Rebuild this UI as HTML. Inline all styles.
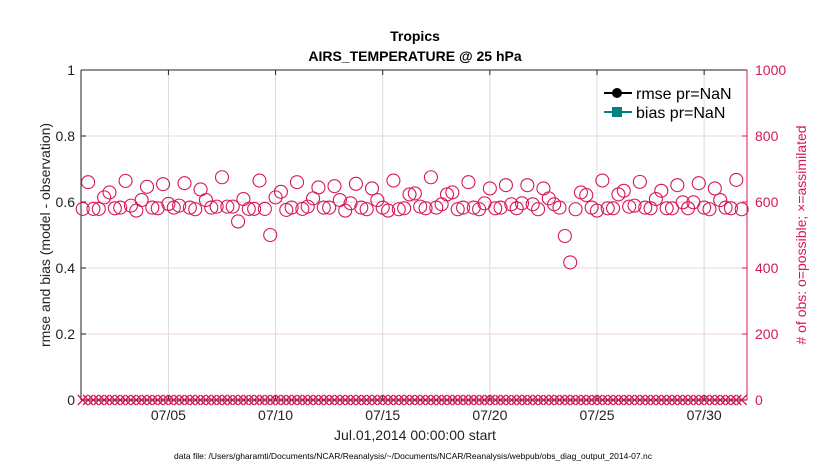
<!DOCTYPE html>
<html><head><meta charset="utf-8"><style>
body{margin:0;background:#fff;}
svg text{font-family:"Liberation Sans",sans-serif;}
</style></head><body>
<svg id="chart" width="830" height="470" xmlns="http://www.w3.org/2000/svg">
<rect width="830" height="470" fill="#fff"/>
<text x="415" y="41" text-anchor="middle" font-size="14" font-weight="bold" fill="#000">Tropics</text>
<text x="415" y="61" text-anchor="middle" font-size="14" font-weight="bold" fill="#000">AIRS_TEMPERATURE @ 25 hPa</text>
<g id="grid"></g>
<g id="axes"></g>
<g id="marks"></g>
<g>
  <g>
    <line x1="604" y1="93" x2="632" y2="93" stroke="#000" stroke-width="2"/>
    <circle cx="617" cy="93" r="5" fill="#000"/>
    <text x="636" y="99" font-size="16" fill="#000">rmse pr=NaN</text>
  </g>
  <g>
    <line x1="604" y1="112" x2="632" y2="112" stroke="#008080" stroke-width="2"/>
    <rect x="612" y="107" width="10" height="10" fill="#008080"/>
    <text x="636" y="118" font-size="16" fill="#000">bias pr=NaN</text>
  </g>
</g>
<text transform="translate(50,235) rotate(-90)" text-anchor="middle" font-size="14" fill="#222">rmse and bias (model - observation)</text>
<text transform="translate(806,235) rotate(-90)" text-anchor="middle" font-size="14" fill="#d6175a"># of obs: o=possible; ×=assimilated</text>
<text x="415" y="440" text-anchor="middle" font-size="14" fill="#222">Jul.01,2014 00:00:00 start</text>
<text x="413" y="459" text-anchor="middle" font-size="8.5" fill="#000">data file: /Users/gharamti/Documents/NCAR/Reanalysis/~/Documents/NCAR/Reanalysis/webpub/obs_diag_output_2014-07.nc</text>
</svg>
<script>
const possibleCounts = [579,660,579,579,614,629,581,583,664,589,574,606,646,583,581,654,594,583,589,657,583,578,638,606,583,586,675,586,586,541,609,579,579,665,579,500,614,631,576,583,660,579,586,
611,644,583,583,648,606,574,596,655,583,578,641,606,583,574,665,578,581,623,626,586,581,675,583,593,623,629,578,583,660,583,578,596,641,581,583,651,593,581,596,651,593,578,
641,611,593,583,497,417,578,629,621,583,574,665,581,581,623,634,586,589,661,583,581,609,634,581,581,651,599,581,599,657,583,578,641,606,583,581,667,578];
const assimilatedCounts = possibleCounts.map(() => 0);
const obsStepDays = 0.25;
const xTickDays = [4, 9, 14, 19, 24, 29];
const xTickLabels = ["07/05","07/10","07/15","07/20","07/25","07/30"];
const leftTicks = [0, 0.2, 0.4, 0.6, 0.8, 1];
const leftTickLabels = ["0","0.2","0.4","0.6","0.8","1"];
const rightTicks = [0, 200, 400, 600, 800, 1000];

const NS = "http://www.w3.org/2000/svg";
const L = 81, R = 747, T = 70, B = 400;
const X0 = -0.08, X1 = 31.0;
const xScale = d => L + (d - X0) / (X1 - X0) * (R - L);
const yLeft = v => B - v * (B - T);
const yRight = c => B - c / 1000 * (B - T);
const CRIM = "#d6175a";
function mk(tag, attrs, parent) {
  const e = document.createElementNS(NS, tag);
  for (const k in attrs) e.setAttribute(k, attrs[k]);
  parent.appendChild(e);
  return e;
}
const grid = document.getElementById("grid");
const axes = document.getElementById("axes");
const marks = document.getElementById("marks");

xTickDays.forEach((d, i) => {
  const g = mk("line", {x1: xScale(d), x2: xScale(d), y1: T, y2: B, stroke: "#dcdcdc", "stroke-width": 1}, grid);
  
  
  mk("line", {x1: xScale(d), x2: xScale(d), y1: B, y2: B - 5, stroke: "#222"}, axes);
  mk("line", {x1: xScale(d), x2: xScale(d), y1: T, y2: T + 5, stroke: "#222"}, axes);
  const t = mk("text", {x: xScale(d), y: B + 20, "text-anchor": "middle", "font-size": 14, fill: "#222"}, axes);
  t.textContent = xTickLabels[i];
  
  
});
rightTicks.forEach(c => {
  if (c > 0 && c < 1000) {
    const g = mk("line", {x1: L, x2: R, y1: yRight(c), y2: yRight(c), stroke: "#f2d3de", "stroke-width": 1}, grid);
    
    
  }
  mk("line", {x1: R, x2: R - 5, y1: yRight(c), y2: yRight(c), stroke: CRIM}, axes);
  const t = mk("text", {x: R + 8, y: yRight(c) + 5, "font-size": 14, fill: CRIM}, axes);
  t.textContent = String(c);
  
  
});
leftTicks.forEach((v, i) => {
  mk("line", {x1: L, x2: L + 5, y1: yLeft(v), y2: yLeft(v), stroke: "#222"}, axes);
  const t = mk("text", {x: L - 6, y: yLeft(v) + 5, "text-anchor": "end", "font-size": 14, fill: "#222"}, axes);
  t.textContent = leftTickLabels[i];
  
  
});
mk("line", {x1: L, x2: R, y1: T, y2: T, stroke: "#222"}, axes);
mk("line", {x1: L, x2: R, y1: B, y2: B, stroke: "#222"}, axes);
const la = mk("line", {x1: L, x2: L, y1: T, y2: B, stroke: "#222"}, axes);


const ra = mk("line", {x1: R, x2: R, y1: T, y2: B, stroke: CRIM}, axes);



possibleCounts.forEach((c, i) => {
  const d = i * obsStepDays;
  const ci = mk("circle", {cx: xScale(d), cy: yRight(c), r: 6.5, fill: "none", stroke: CRIM, "stroke-width": 1.1}, marks);
  
  
});
assimilatedCounts.forEach((c, i) => {
  const x = xScale(i * obsStepDays), y = yRight(c);
  const p = mk("path", {d: `M${x-5},${y-5}L${x+5},${y+5}M${x-5},${y+5}L${x+5},${y-5}`, stroke: CRIM, "stroke-width": 1.3, fill: "none"}, marks);
  
  
});
</script>
</body></html>
